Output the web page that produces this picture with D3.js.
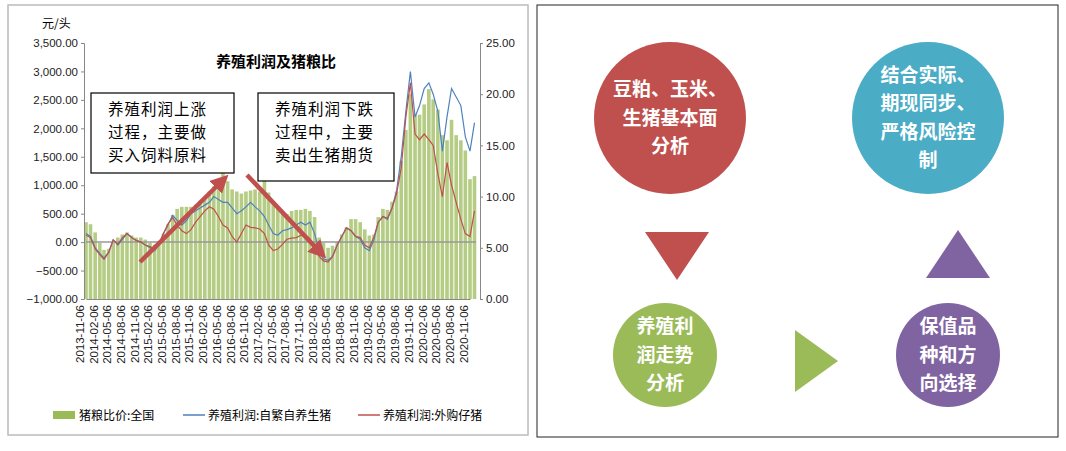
<!DOCTYPE html>
<html><head><meta charset="utf-8">
<script src="https://cdn.jsdelivr.net/npm/d3@7"></script>
<style>body{margin:0;background:#fff;font-family:"Noto Sans CJK SC",sans-serif}</style>
</head><body><svg id="c" width="1066" height="451"></svg>
<script>
// monthly, 2013-11 .. 2020-12
const months = d3.range(86).map(i => new Date(2013, 10 + i, 6));
const ratio = [7.5,7.3,6.5,5.5,4.8,4.9,5.5,6.0,6.3,6.5,6.2,6.0,6.0,5.8,5.5,5.3,5.6,6.4,7.3,8.2,8.8,9.0,9.0,9.0,9.2,9.6,10.0,10.5,11.0,11.6,12.3,11.5,10.7,10.5,10.3,10.5,10.6,10.7,10.5,11.5,10.4,9.5,8.8,8.3,8.3,8.6,8.7,8.7,8.8,8.6,8.0,6.0,5.5,5.0,5.2,5.6,6.3,7.0,7.8,7.8,7.5,6.8,6.2,6.3,8.0,8.8,8.7,9.5,10.5,13.5,16.5,20.0,18.0,18.0,19.0,20.5,19.5,18.5,16.0,15.5,17.5,16.0,15.5,14.5,11.7,12.0];
const profitSelf = [150,100,-100,-200,-280,-180,40,-50,50,150,80,30,0,-50,-100,-150,-50,150,300,470,380,300,380,500,550,600,650,700,800,750,700,700,600,500,550,620,700,620,550,450,300,150,120,200,220,250,300,350,300,350,150,-150,-300,-320,-250,-50,100,250,200,100,50,-100,-150,50,350,450,400,600,900,1500,2300,3000,2200,2400,2700,2800,2600,2300,1600,2200,2700,2550,2400,1850,1600,2100];
const profitBuy = [120,80,-120,-220,-300,-180,40,-40,80,150,80,30,0,-50,-80,-120,-30,150,320,430,300,200,150,220,350,450,550,620,580,450,300,250,100,0,150,300,260,250,230,150,-50,-150,-120,-40,50,70,80,120,110,60,-100,-250,-330,-350,-250,-50,100,250,200,100,80,-50,-100,100,350,450,420,600,850,1300,2200,2800,1900,1800,1900,1800,1700,1200,800,1400,1000,700,400,150,100,550];
const leftTicks = [-1000,-500,0,500,1000,1500,2000,2500,3000,3500];
const rightTicks = [0,5,10,15,20,25];
const legendNames = ["猪粮比价:全国","养殖利润:自繁自养生猪","养殖利润:外购仔猪"];

const svg = d3.select("#c");
const fmt = d3.format(",.2f");

// left panel frame
svg.append("rect").attr("x",8).attr("y",5).attr("width",520).attr("height",430)
  .attr("fill","#fff").attr("stroke","#bbb").attr("stroke-width",1.5);

const x = d3.scaleTime().domain([new Date(2013,10,6), new Date(2020,10,6)]).range([86,470]);
const yL = d3.scaleLinear().domain([-1000,3500]).range([299,43]);
const yR = d3.scaleLinear().domain([0,25]).range([299,43]);

// bars
svg.append("g").selectAll("rect").data(ratio).join("rect")
  .attr("x",(d,i)=>x(months[i])-1.8).attr("width",3.6)
  .attr("y",d=>yR(d)).attr("height",d=>yR(0)-yR(d))
  .attr("fill","#9bbb59").attr("opacity",0.75);

// zero line
svg.append("line").attr("x1",86).attr("x2",476).attr("y1",yL(0)).attr("y2",yL(0))
  .attr("stroke","#999").attr("stroke-width",1.5);

const line = d3.line().x((d,i)=>x(months[i])).y(d=>yL(d));
svg.append("path").datum(profitSelf).attr("d",line).attr("fill","none").attr("stroke","#4f81bd").attr("stroke-width",1.2);
svg.append("path").datum(profitBuy).attr("d",line).attr("fill","none").attr("stroke","#c0504d").attr("stroke-width",1.2);

// axes
const axL = svg.append("g").attr("transform","translate(84,0)")
  .call(d3.axisLeft(yL).tickValues(leftTicks).tickFormat(fmt).tickSize(3));
const axR = svg.append("g").attr("transform","translate(480,0)")
  .call(d3.axisRight(yR).tickValues(rightTicks).tickFormat(d3.format(".2f")).tickSize(3));
[axL,axR].forEach(a=>{a.selectAll("path,line").attr("stroke","#888");
  a.selectAll("text").attr("font-size",11.5).attr("fill","#222").attr("font-family","Liberation Sans Narrow, Arial Narrow, sans-serif");});

const xTicks = d3.range(29).map(i=>new Date(2013,10+3*i,6));
const axB = svg.append("g").attr("transform","translate(0,299)")
  .call(d3.axisBottom(x).tickValues(xTicks).tickFormat(d3.timeFormat("%Y-%m-%d")).tickSize(0));
axB.select(".domain").attr("stroke","#888");
axB.selectAll("text").attr("font-size",11.5).attr("fill","#222")
  .attr("transform","rotate(-90)").attr("text-anchor","end").attr("dx","-6").attr("dy","-0.5em")
  .attr("font-family","Liberation Sans Narrow, sans-serif");

svg.append("text").attr("x",42).attr("y",28).attr("font-size",12).text("元/头");
svg.append("text").attr("x",276).attr("y",67).attr("text-anchor","middle").attr("font-size",15).attr("font-weight","bold").text("养殖利润及猪粮比");

// annotation boxes
const notes = [{x:91,y:93,w:143,h:80,lines:["养殖利润上涨","过程，主要做","买入饲料原料"]},
               {x:258,y:93,w:136,h:88,lines:["养殖利润下跌","过程中，主要","卖出生猪期货"]}];
notes.forEach(n=>{
  svg.append("rect").attr("x",n.x).attr("y",n.y).attr("width",n.w).attr("height",n.h)
    .attr("fill","#fff").attr("stroke","#000").attr("stroke-width",1.2);
  n.lines.forEach((t,i)=>svg.append("text").attr("x",n.x+17).attr("y",n.y+22+i*23)
    .attr("font-size",15.5).attr("letter-spacing",1).text(t));
});

// arrows
const defs = svg.append("defs");
defs.append("marker").attr("id","ah").attr("viewBox","0 0 10 10").attr("refX",5).attr("refY",5)
  .attr("markerWidth",4).attr("markerHeight",4).attr("orient","auto")
  .append("path").attr("d","M0,0L10,5L0,10z").attr("fill","#c0504d");
[[140,262,222,181],[247,175,320,252]].forEach(a=>{
  svg.append("line").attr("x1",a[0]).attr("y1",a[1]).attr("x2",a[2]).attr("y2",a[3])
    .attr("stroke","#c0504d").attr("stroke-width",4.5).attr("marker-end","url(#ah)");
});

// legend
const lg = svg.append("g");
lg.append("rect").attr("x",53).attr("y",411).attr("width",22).attr("height",8).attr("fill","#9bbb59");
lg.append("text").attr("x",79).attr("y",420).attr("font-size",12).text(legendNames[0]);
lg.append("line").attr("x1",183).attr("x2",205).attr("y1",415).attr("y2",415).attr("stroke","#4f81bd").attr("stroke-width",1.5);
lg.append("text").attr("x",208).attr("y",420).attr("font-size",12).text(legendNames[1]);
lg.append("line").attr("x1",358).attr("x2",380).attr("y1",415).attr("y2",415).attr("stroke","#c0504d").attr("stroke-width",1.5);
lg.append("text").attr("x",383).attr("y",420).attr("font-size",12).text(legendNames[2]);

// right panel: flow diagram
svg.append("rect").attr("x",537).attr("y",5).attr("width",521).attr("height",432)
  .attr("fill","#fff").attr("stroke","#222").attr("stroke-width",1);
const circles = [
  {cx:670,cy:118,r:76,c:"#c0504d",lines:["豆粕、玉米、","生猪基本面","分析"],fs:19},
  {cx:928,cy:118,r:76,c:"#4bacc6",lines:["结合实际、","期现同步、","严格风险控","制"],fs:19},
  {cx:665,cy:355,r:52,c:"#9bbb59",lines:["养殖利","润走势","分析"],fs:19},
  {cx:948,cy:355,r:52,c:"#8064a2",lines:["保值品","种和方","向选择"],fs:19}];
circles.forEach(o=>{
  svg.append("circle").attr("cx",o.cx).attr("cy",o.cy).attr("r",o.r).attr("fill",o.c);
  const lh = o.fs*1.5, top = o.cy - (o.lines.length-1)*lh/2;
  o.lines.forEach((t,i)=>svg.append("text").attr("x",o.cx).attr("y",top+i*lh)
    .attr("dy","0.35em").attr("text-anchor","middle").attr("fill","#fff")
    .attr("font-size",o.fs).attr("font-weight","bold").text(t));
});
svg.append("path").attr("d","M645,232L709,232L677,280Z").attr("fill","#c0504d");
svg.append("path").attr("d","M926,278L990,278L958,230Z").attr("fill","#8064a2");
svg.append("path").attr("d","M795,330L795,392L838,361Z").attr("fill","#9bbb59");
</script></body></html>
